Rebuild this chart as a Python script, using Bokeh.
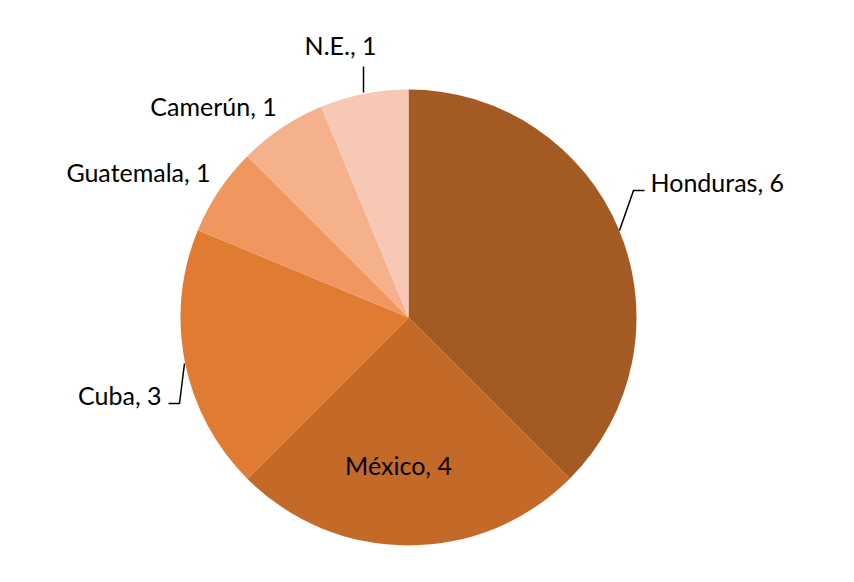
import math
from bokeh.plotting import figure
from bokeh.models import Range1d, ColumnDataSource
from bokeh.core.properties import value
from bokeh.embed import file_html
from bokeh.resources import INLINE

# ---- data ----
categories = ["Honduras", "México", "Cuba", "Guatemala", "Camerún", "N.E."]
counts = [6, 4, 3, 1, 1, 1]
colors = ["#A45A23", "#C46A29", "#E07B31", "#F0965F", "#F4B18C", "#F7C8B4"]

# ---- layout (screen-like coords: y measured from top of page) ----
W, H = 838, 566
CX, CY, R = 408, 317, 228

def Y(sy):
    return 582 - sy

p = figure(width=W, height=H, output_backend="svg", toolbar_location=None,
           x_range=Range1d(0, W), y_range=Range1d(582 - H, 582),
           min_border=0)
p.axis.visible = False
p.grid.visible = False
p.outline_line_color = None
p.background_fill_color = "white"

total = sum(counts)
starts, ends = [], []
a = math.pi / 2
for c in counts:
    sweep = 2 * math.pi * c / total
    starts.append(a - sweep)
    ends.append(a)
    a -= sweep

src = ColumnDataSource(dict(start=starts, end=ends, color=colors,
                            label=[f"{n}, {v}" for n, v in zip(categories, counts)]))
p.wedge(x=CX, y=Y(CY), radius=R, start_angle="start", end_angle="end",
        fill_color="color", line_color=None, source=src)

# label placement (screen positions)
label_pos = {
    "Honduras": (650, 181, "left"),
    "México": (398, 464, "center"),
    "Cuba": (161, 394, "right"),
    "Guatemala": (138, 171, "center"),
    "Camerún": (213, 105, "center"),
    "N.E.": (340, 44, "center"),
}
font = value("Lato")
for i, name in enumerate(categories):
    lx, ly, al = label_pos[name]
    p.text(x=[lx], y=[Y(ly)], text=[src.data["label"][i]], text_font=font,
           text_font_size="25px", text_align=al, text_baseline="middle",
           text_color="#000000")

# leader lines
leaders = {
    "Honduras": [(619, 230), (633, 190), (644, 190)],
    "Cuba": [(184, 363), (179, 403), (168, 403)],
    "N.E.": [(363, 66), (363, 92)],
}
for name, pts in leaders.items():
    p.line(x=[q[0] for q in pts], y=[Y(q[1]) for q in pts],
           line_color="black", line_width=1.5)

open("out.html", "w").write(file_html(p, INLINE))
